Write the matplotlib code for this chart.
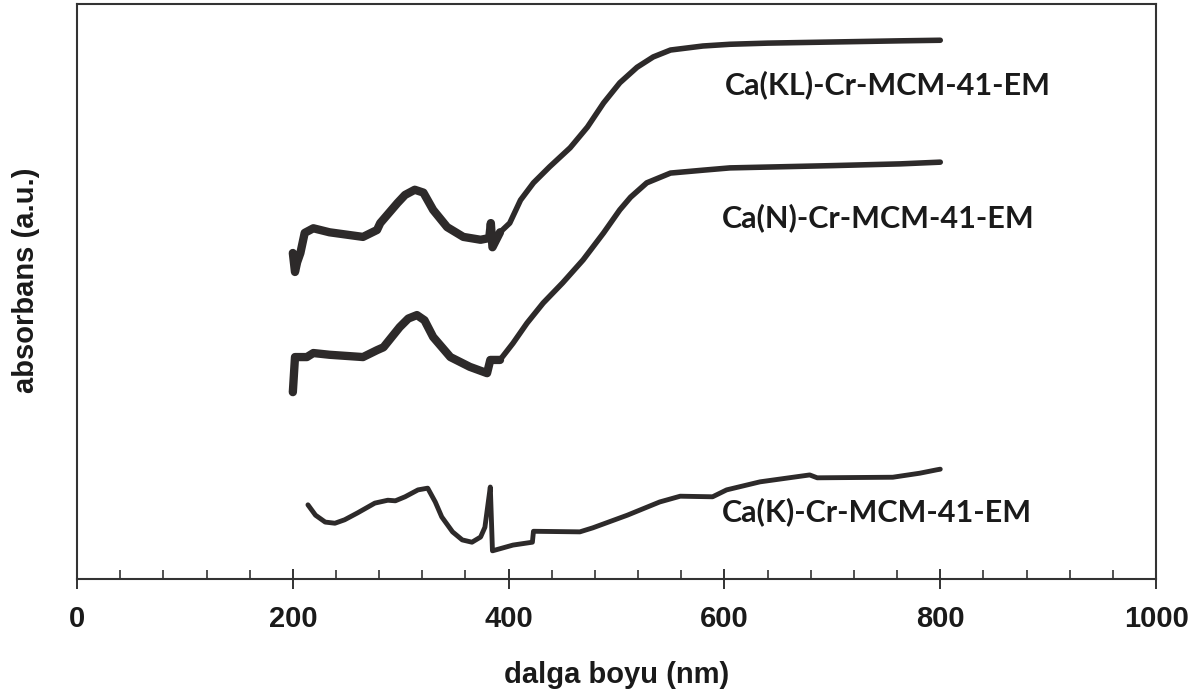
import matplotlib
matplotlib.use("Agg")
import matplotlib.pyplot as plt
from matplotlib.ticker import MultipleLocator

# UV-Vis spektrumlari (absorbans, keyfi birim)
kl_x = [200, 202, 204, 207, 211, 219, 234, 265, 278, 281, 297, 304, 313, 321,
        330, 343, 358, 374, 382, 383.5, 385, 392, 401, 411, 423, 438, 457, 473,
        488, 503, 519, 534, 550, 580, 605, 640, 701, 763, 800]
kl_y = [56.7, 53.4, 55.1, 56.7, 60.2, 61.0, 60.3, 59.5, 60.7, 61.9, 65.4, 66.8,
        67.7, 67.2, 64.2, 61.2, 59.5, 59.0, 59.3, 61.9, 57.7, 60.3, 61.9, 65.9,
        68.9, 71.7, 75.0, 78.6, 82.8, 86.3, 89.0, 90.8, 92.0, 92.7, 93.0, 93.2,
        93.4, 93.6, 93.7]

n_x = [200, 202, 213, 219, 234, 265, 278, 284, 299, 307, 315, 322, 330, 346,
       364, 380, 383, 392, 404, 417, 432, 450, 469, 488, 503, 513, 528, 550,
       580, 605, 701, 763, 800]
n_y = [32.5, 38.6, 38.6, 39.3, 39.0, 38.6, 39.8, 40.3, 43.8, 45.3, 45.9, 45.0,
       42.1, 38.6, 36.9, 35.8, 38.1, 38.1, 41.0, 44.5, 48.0, 51.5, 55.5, 60.2,
       64.2, 66.4, 68.9, 70.6, 71.1, 71.5, 71.9, 72.2, 72.5]

k_x = [214, 221, 230, 239, 248, 260, 276, 288, 295, 304, 316, 325, 332, 338,
       348, 357, 366, 374, 378, 381, 383, 385, 404, 422, 423, 466, 478, 510,
       540, 559, 589, 602, 633, 679, 686, 756, 781, 797, 800]
k_y = [12.9, 11.1, 9.9, 9.7, 10.3, 11.5, 13.2, 13.7, 13.6, 14.3, 15.5, 15.8,
       13.4, 10.8, 8.2, 6.8, 6.4, 7.3, 9.0, 13.2, 16.0, 4.9, 5.9, 6.4, 8.3, 8.2,
       8.9, 11.1, 13.4, 14.4, 14.3, 15.5, 16.9, 18.1, 17.6, 17.7, 18.4, 19.0, 19.1]

labels = ["Ca(KL)-Cr-MCM-41-EM", "Ca(N)-Cr-MCM-41-EM", "Ca(K)-Cr-MCM-41-EM"]
label_x = [600, 598, 598]
label_y = [85.9, 62.8, 11.7]

line_color = "#2d2a2a"
axis_color = "#333333"
axis_font = ["Liberation Sans Narrow", "Liberation Sans", "DejaVu Sans"]
label_font = ["Lato", "Open Sans", "DejaVu Sans"]

fig = plt.figure(figsize=(11.98, 6.95), dpi=100)
ax = fig.add_axes([0.0643, 0.1669, 0.9007, 0.8273])

# ust iki egri: dalgali bolge daha kalin
for xs, ys in [(kl_x, kl_y), (n_x, n_y)]:
    ax.plot(xs, ys, color=line_color, lw=4.0, solid_capstyle="round",
            solid_joinstyle="round")
    cut = sum(1 for v in xs if v <= 392)
    ax.plot(xs[:cut], ys[:cut], color=line_color, lw=6.0,
            solid_capstyle="round", solid_joinstyle="round")

ax.plot(k_x, k_y, color=line_color, lw=3.5, solid_capstyle="round",
        solid_joinstyle="round")

for txt, tx, ty in zip(labels, label_x, label_y):
    ax.text(tx, ty, txt, fontsize=22, fontweight="bold", family=label_font,
            color="#1a1a1a", ha="left", va="center")

ax.set_xlim(0, 1000)
ax.set_ylim(0, 100)
ax.xaxis.set_major_locator(MultipleLocator(200))
ax.xaxis.set_minor_locator(MultipleLocator(40))
ax.set_yticks([])

ax.tick_params(axis="x", which="major", direction="inout", length=14,
               width=1.4, color=axis_color, pad=12, labelsize=21)
ax.tick_params(axis="x", which="minor", direction="in", length=6.5,
               width=1.2, color=axis_color)
for lab in ax.get_xticklabels():
    lab.set_family(axis_font)
    lab.set_fontweight("bold")
    lab.set_color("#1a1a1a")

for sp in ax.spines.values():
    sp.set_color(axis_color)
    sp.set_linewidth(1.5)

ax.set_xlabel("dalga boyu (nm)", fontsize=21, fontweight="bold",
              family=axis_font, color="#1a1a1a", labelpad=20)
ax.set_ylabel("absorbans (a.u.)", fontsize=21, fontweight="bold",
              family=axis_font, color="#1a1a1a")
ax.yaxis.set_label_coords(-0.034, 0.52)

fig.savefig("out.png", dpi=100, facecolor="white")
